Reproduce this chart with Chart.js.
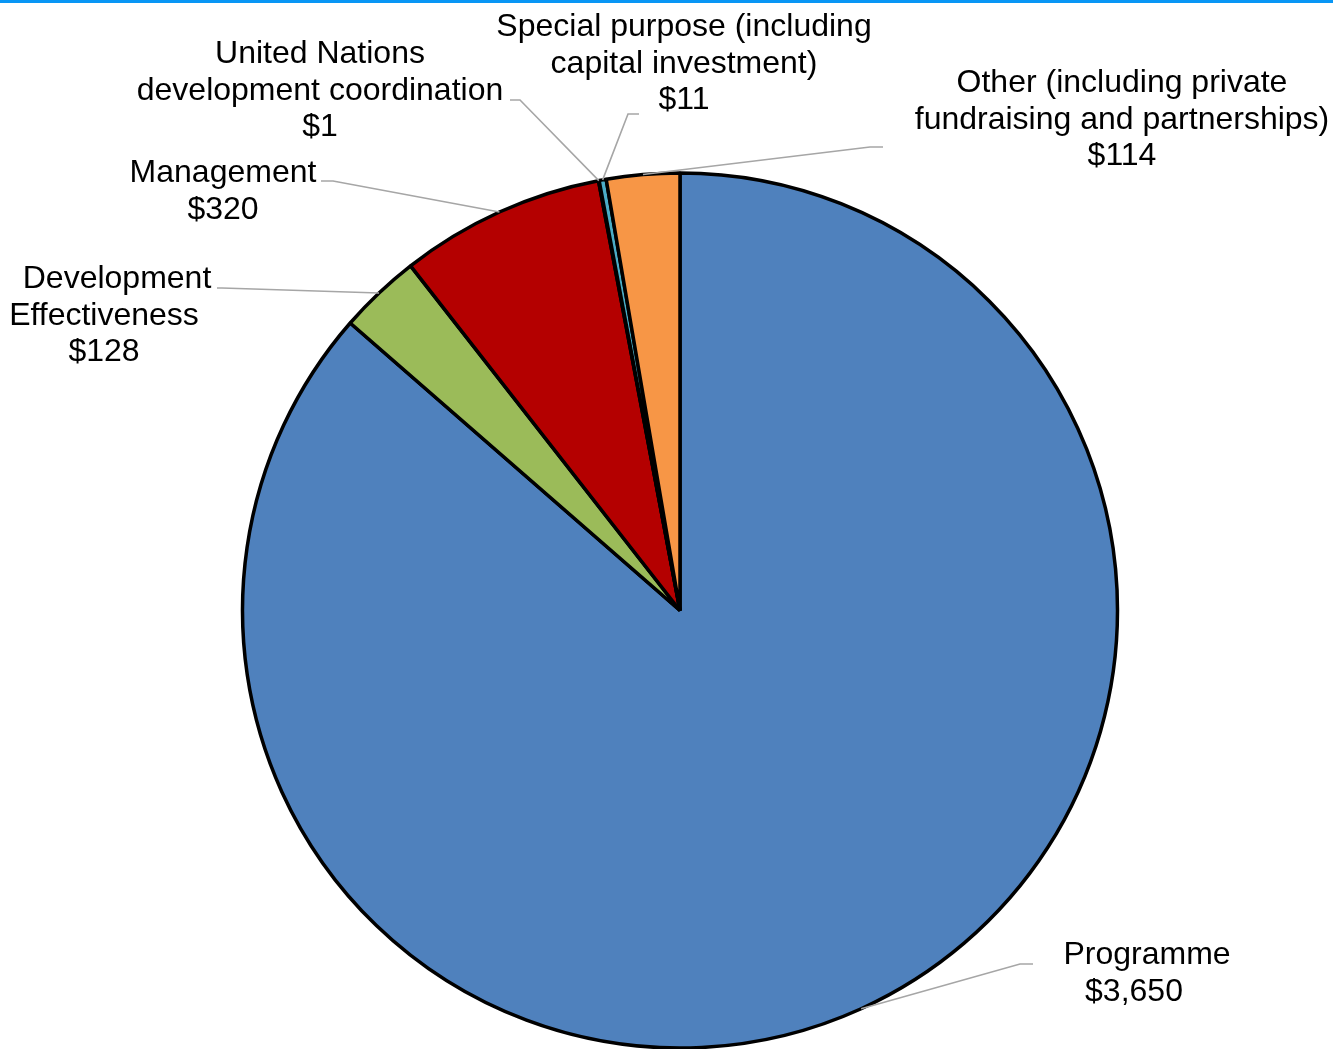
<!DOCTYPE html>
<html>
<head>
<meta charset="utf-8">
<script src="https://cdn.jsdelivr.net/npm/chart.js@4/dist/chart.umd.min.js"></script>
<style>
  html, body { margin: 0; padding: 0; background: #ffffff; }
  #wrap { position: relative; width: 1333px; height: 1049px; overflow: hidden; }
  #topRule { position: absolute; left: 0; top: 0; width: 1333px; height: 3px; background: #0896F5; z-index: 2; }
  canvas { display: block; }
</style>
</head>
<body>
<div id="wrap">
  <div id="topRule"></div>
  <canvas id="chart" width="1333" height="1049"></canvas>
</div>
<script>
// Expenditure by category (US$ millions)
const categories = [
  'Programme',
  'Development Effectiveness',
  'Management',
  'United Nations development coordination',
  'Special purpose (including capital investment)',
  'Other (including private fundraising and partnerships)'
];
const values = [3650, 128, 320, 1, 11, 114];
const sliceColors = ['#4F81BD', '#9BBB59', '#B40000', '#8064A2', '#4BACC6', '#F79646'];

// Wrapped category text for the data labels
const labelLines = [
  ['Programme'],
  ['Development', 'Effectiveness'],
  ['Management'],
  ['United Nations', 'development coordination'],
  ['Special purpose (including', 'capital investment)'],
  ['Other (including private', 'fundraising and partnerships)']
];

// Label placement: text centre x, first baseline y, first-line shift,
// leader elbow and leader end next to the text
const labelLayout = [
  { x: 1134, y: 964, shift: 13, elbow: [1020, 964], end: [1033, 964] },
  { x: 104,  y: 288, shift: 13, elbow: [222, 288],  end: [217, 288] },
  { x: 223,  y: 182, shift: 0,  elbow: [333, 181],  end: [321, 181] },
  { x: 320,  y: 63,  shift: 0,  elbow: [520, 100],  end: [510, 100] },
  { x: 684,  y: 36,  shift: 0,  elbow: [628, 114],  end: [639, 114] },
  { x: 1122, y: 92,  shift: 0,  elbow: [870, 147],  end: [883, 147] }
];

const FONT = '32px "Liberation Sans", Arial, sans-serif';
const LINE_H = 36.5;

function money(v) {
  return '$' + v.toLocaleString('en-US');
}

const leaderLabels = {
  id: 'leaderLabels',
  afterDatasetsDraw(chart) {
    const ctx = chart.ctx;
    const meta = chart.getDatasetMeta(0);
    ctx.save();
    meta.data.forEach((arc, i) => {
      const lay = labelLayout[i];
      const mid = (arc.startAngle + arc.endAngle) / 2;
      const r = arc.outerRadius;
      const sx = arc.x + Math.cos(mid) * r;
      const sy = arc.y + Math.sin(mid) * r;
      ctx.beginPath();
      ctx.strokeStyle = '#A6A6A6';
      ctx.lineWidth = 1.6;
      ctx.moveTo(sx, sy);
      ctx.lineTo(lay.elbow[0], lay.elbow[1]);
      ctx.lineTo(lay.end[0], lay.end[1]);
      ctx.stroke();

      const lines = labelLines[i].concat([money(values[i])]);
      ctx.font = FONT;
      ctx.fillStyle = '#000000';
      ctx.textAlign = 'center';
      ctx.textBaseline = 'alphabetic';
      lines.forEach((t, k) => {
        const x = lay.x + (k === 0 ? lay.shift : 0);
        ctx.fillText(t, x, lay.y + k * LINE_H);
      });
    });
    ctx.restore();
  }
};

new Chart(document.getElementById('chart'), {
  type: 'pie',
  data: {
    labels: categories,
    datasets: [{
      data: values,
      backgroundColor: sliceColors,
      borderColor: '#000000',
      borderWidth: 3.5
    }]
  },
  options: {
    responsive: false,
    animation: false,
    radius: 437.5,
    layout: { padding: { left: 241, right: 214, top: 172, bottom: 0 } },
    plugins: {
      legend: { display: false },
      tooltip: { enabled: false }
    }
  },
  plugins: [leaderLabels]
});
</script>
</body>
</html>
